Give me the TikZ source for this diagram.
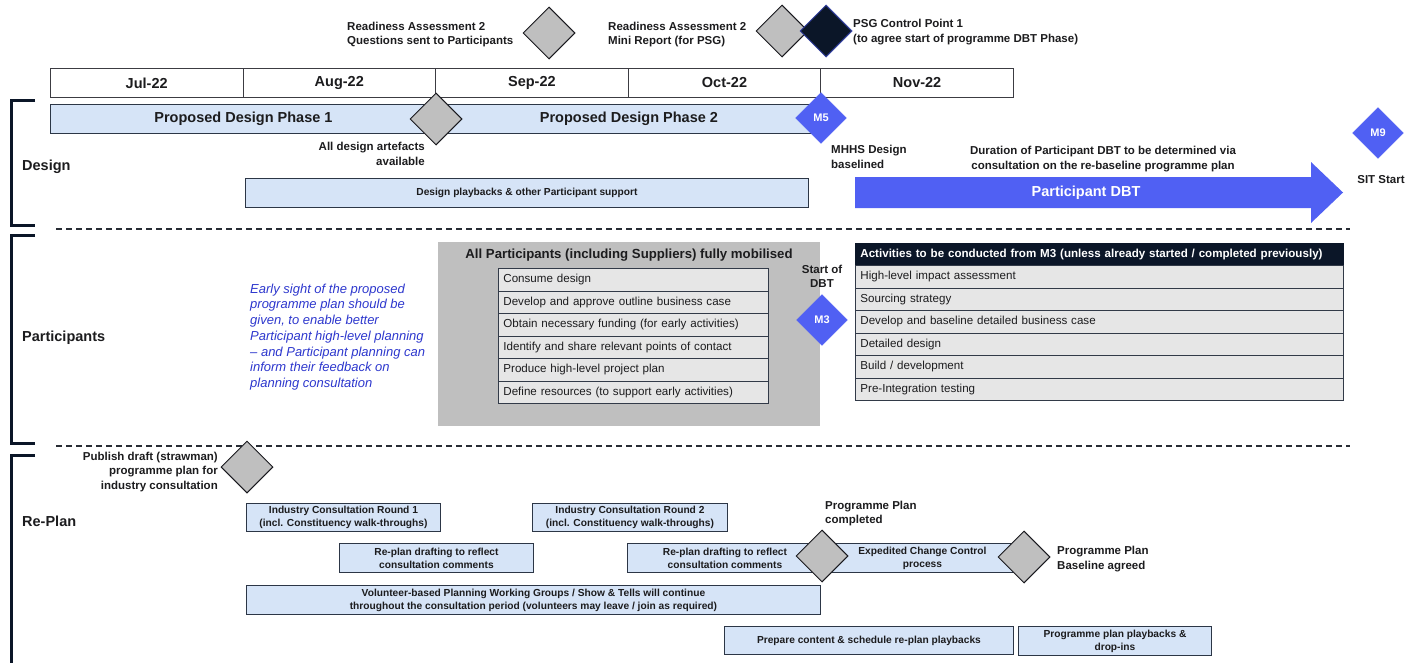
\documentclass[tikz,border=0pt]{standalone}
\usepackage{fontspec}
\setmainfont{Liberation Sans}
\usetikzlibrary{shapes.geometric}
\definecolor{txt}{RGB}{28,28,30}
\definecolor{boxblue}{RGB}{214,228,247}
\definecolor{boxedge}{RGB}{44,54,70}
\definecolor{diagray}{RGB}{191,191,191}
\definecolor{diaedge}{RGB}{25,25,30}
\definecolor{mblue}{RGB}{80,96,243}
\definecolor{navy}{RGB}{11,22,40}
\definecolor{rowgray}{RGB}{230,230,230}
\definecolor{rowedge}{RGB}{50,58,72}
\definecolor{pgray}{RGB}{191,191,191}
\definecolor{itblue}{RGB}{45,55,205}
\definecolor{celledge}{RGB}{60,60,66}
\definecolor{dashc}{RGB}{40,44,52}
\newcommand\myfM{\fontsize{14.5pt}{17pt}\selectfont\bfseries}
\newcommand\myfA{\fontsize{11.5pt}{14.3pt}\selectfont\bfseries}
\newcommand\myfS{\fontsize{10.2pt}{13pt}\selectfont\bfseries}
\newcommand\myfR{\fontsize{11.6pt}{14pt}\selectfont}
\newcommand\myfI{\fontsize{13pt}{15.7pt}\selectfont\itshape}
\newcommand\myfD{\fontsize{14.5pt}{18pt}\selectfont\bfseries}
\newcommand\myfH{\fontsize{11.6pt}{13pt}\selectfont\bfseries}
\newcommand\myfT{\fontsize{13.2pt}{15pt}\selectfont\bfseries}
\newcommand\myfMS{\fontsize{11pt}{13pt}\selectfont\bfseries}
\begin{document}
\begin{tikzpicture}[x=1pt,y=-1pt,
  lbox/.style={draw=boxedge, fill=boxblue, line width=0.9pt, inner sep=0pt, align=center, anchor=north west, text=txt, font=\myfS},
  mcell/.style={draw=celledge, fill=white, line width=0.8pt, anchor=north west, minimum width=192.6pt, minimum height=29pt, inner sep=0pt, font=\myfM, text=txt},
  gdia/.style={diamond, draw=diaedge, fill=diagray, line width=1pt, minimum width=52pt, minimum height=52pt, inner sep=0pt},
  mdia/.style={diamond, fill=mblue, draw=mblue, minimum width=51pt, minimum height=51pt, inner sep=0pt, text=white, font=\myfMS},
  lbl/.style={font=\myfA, text=txt, inner sep=0pt},
  seclbl/.style={font=\myfM, text=txt, inner sep=0pt, anchor=west},
  prow/.style={draw=rowedge, fill=rowgray, line width=0.8pt, anchor=north west, minimum height=22.5pt, inner xsep=5pt, inner ysep=0pt, align=left, text=txt, font=\myfR},
  bracket/.style={draw=navy, line width=3pt},
  sep/.style={draw=dashc, line width=1.2pt, dash pattern=on 6pt off 4pt}
]
\useasboundingbox (0,0) rectangle (1418,662);

% ---------- top annotations ----------
\node[lbl, anchor=west, align=left] (ra1t) at (347,34.5) {Readiness Assessment 2\\Questions sent to Participants};
\node[gdia] (ra1) at (549,33) {};
\node[lbl, anchor=west, align=left] (ra2t) at (608,34.5) {Readiness Assessment 2\\Mini Report (for PSG)};
\node[gdia] (ra2) at (782,31) {};
\node[gdia, fill=navy, draw=mblue!60!navy] (psg) at (826,31) {};
\node[lbl, anchor=west, align=left] (psgt) at (853,32) {PSG Control Point 1\\(to agree start of programme DBT Phase)};

% ---------- months ----------
\node[mcell] (jul) at (50,68) {Jul-22};
\node[mcell] (aug) at (242.6,68) {Aug-22};
\node[mcell] (sep) at (435.2,68) {Sep-22};
\node[mcell] (oct) at (627.8,68) {Oct-22};
\node[mcell] (nov) at (820.4,68) {Nov-22};

% ---------- brackets and separators ----------
\draw[bracket] (35,100) -- (11,100) -- (11,225) -- (35,225);
\draw[bracket] (35,235) -- (11,235) -- (11,443) -- (35,443);
\draw[bracket] (35,455) -- (11,455) -- (11,670);
\coordinate (s1a) at (56,229); \coordinate (s1b) at (1350,229);
\coordinate (s2a) at (56,446); \coordinate (s2b) at (1350,446);
\draw[sep] (s1a) -- (s1b);
\draw[sep] (s2a) -- (s2b);

% ---------- Design ----------
\node[seclbl] (designl) at (22,167) {Design};
\node[lbox, font=\myfM, minimum width=386pt, minimum height=29pt] (ph1) at (50,104) {Proposed Design Phase 1};
\node[lbox, font=\myfM, minimum width=385pt, minimum height=29pt] (ph2) at (436,104) {Proposed Design Phase 2};
\node[gdia] (dart) at (436,119) {};
\node[mdia] (m5) at (821,118) {M5};
\node[lbl, anchor=east, align=right] (dartt) at (425,154) {All design artefacts\\available};
\node[lbl, anchor=west, align=left] (m5t) at (831,157) {MHHS Design\\baselined};
\node[lbl, align=center] (dur) at (1103,159) {Duration of Participant DBT to be determined via\\consultation on the re-baseline programme plan};
\node[lbox, minimum width=563pt, minimum height=29pt] (dp) at (245,178) {Design playbacks \& other Participant support};
\fill[mblue] (855,177) -- (1311,177) -- (1311,162) -- (1343,192.5) -- (1311,223) -- (1311,208) -- (855,208) -- cycle;
\node[font=\myfD, text=white, inner sep=0pt] (pdbt) at (1086,192.5) {Participant DBT};
\node[mdia] (m9) at (1378,133) {M9};
\node[lbl] (sit) at (1381,180) {SIT Start};

% ---------- Participants ----------
\node[seclbl] (partl) at (22,338) {Participants};
\node[anchor=west, align=left, font=\myfI, text=itblue, inner sep=0pt] (note) at (250,337) {Early sight of the proposed\\programme plan should be\\given, to enable better\\Participant high-level planning\\– and Participant planning can\\inform their feedback on\\planning consultation};
\node[fill=pgray, anchor=north west, minimum width=382pt, minimum height=184pt, inner sep=0pt] (pbox) at (438,242) {};
\node[font=\myfT, text=txt, inner sep=0pt] (pboxt) at (629,255.5) {All Participants (including Suppliers) fully mobilised};
\node[prow, text width=260pt] (pr1) at (498,268) {Consume design};
\node[prow, text width=260pt] (pr2) at (498,290.5) {Develop and approve outline business case};
\node[prow, text width=260pt] (pr3) at (498,313) {Obtain necessary funding (for early activities)};
\node[prow, text width=260pt] (pr4) at (498,335.5) {Identify and share relevant points of contact};
\node[prow, text width=260pt] (pr5) at (498,358) {Produce high-level project plan};
\node[prow, text width=260pt] (pr6) at (498,380.5) {Define resources (to support early activities)};
\node[lbl, align=center] (sdbt) at (822,276.5) {Start of\\DBT};
\node[mdia] (m3) at (822,320) {M3};
\node[prow, text width=478pt, fill=navy, draw=navy, text=white, font=\myfH, minimum height=22pt] (ah) at (855,243) {Activities to be conducted from M3 (unless already started / completed previously)};
\node[prow, text width=478pt] (a1) at (855,265) {High-level impact assessment};
\node[prow, text width=478pt] (a2) at (855,287.5) {Sourcing strategy};
\node[prow, text width=478pt] (a3) at (855,310) {Develop and baseline detailed business case};
\node[prow, text width=478pt] (a4) at (855,332.5) {Detailed design};
\node[prow, text width=478pt] (a5) at (855,355) {Build / development};
\node[prow, text width=478pt] (a6) at (855,377.5) {Pre-Integration testing};

% ---------- Re-Plan ----------
\node[seclbl] (replanl) at (22,521) {Re-Plan};
\node[lbl, anchor=east, align=right] (pubt) at (218,472) {Publish draft (strawman)\\programme plan for\\industry consultation};
\node[gdia] (pub) at (247,467) {};
\node[lbox, minimum width=194pt, minimum height=28pt] (icr1) at (246,503) {Industry Consultation Round 1\\(incl. Constituency walk-throughs)};
\node[lbox, minimum width=195pt, minimum height=28pt] (icr2) at (532,503) {Industry Consultation Round 2\\(incl. Constituency walk-throughs)};
\node[lbox, minimum width=194pt, minimum height=29pt] (rpd1) at (339,543) {Re-plan drafting to reflect\\consultation comments};
\node[lbox, minimum width=195pt, minimum height=29pt] (rpd2) at (627,543) {Re-plan drafting to reflect\\consultation comments};
\node[lbox, minimum width=200pt, minimum height=29pt] (ecc) at (822,543) {Expedited Change Control\\process};
\node[lbox, minimum width=574pt, minimum height=29pt] (vol) at (246,585) {Volunteer-based Planning Working Groups / Show \& Tells will continue\\throughout the consultation period (volunteers may leave / join as required)};
\node[lbox, minimum width=289pt, minimum height=28pt] (prep) at (724,626) {Prepare content \& schedule re-plan playbacks};
\node[lbox, minimum width=193pt, minimum height=29pt] (ppp) at (1018,626) {Programme plan playbacks \&\\drop-ins};
\node[gdia] (ppc) at (822,556) {};
\node[lbl, anchor=west, align=left] (ppct) at (825,513.5) {Programme Plan\\completed};
\node[gdia] (ppb) at (1024,557) {};
\node[lbl, anchor=west, align=left] (ppbt) at (1057,559) {Programme Plan\\Baseline agreed};
\end{tikzpicture}
\end{document}
